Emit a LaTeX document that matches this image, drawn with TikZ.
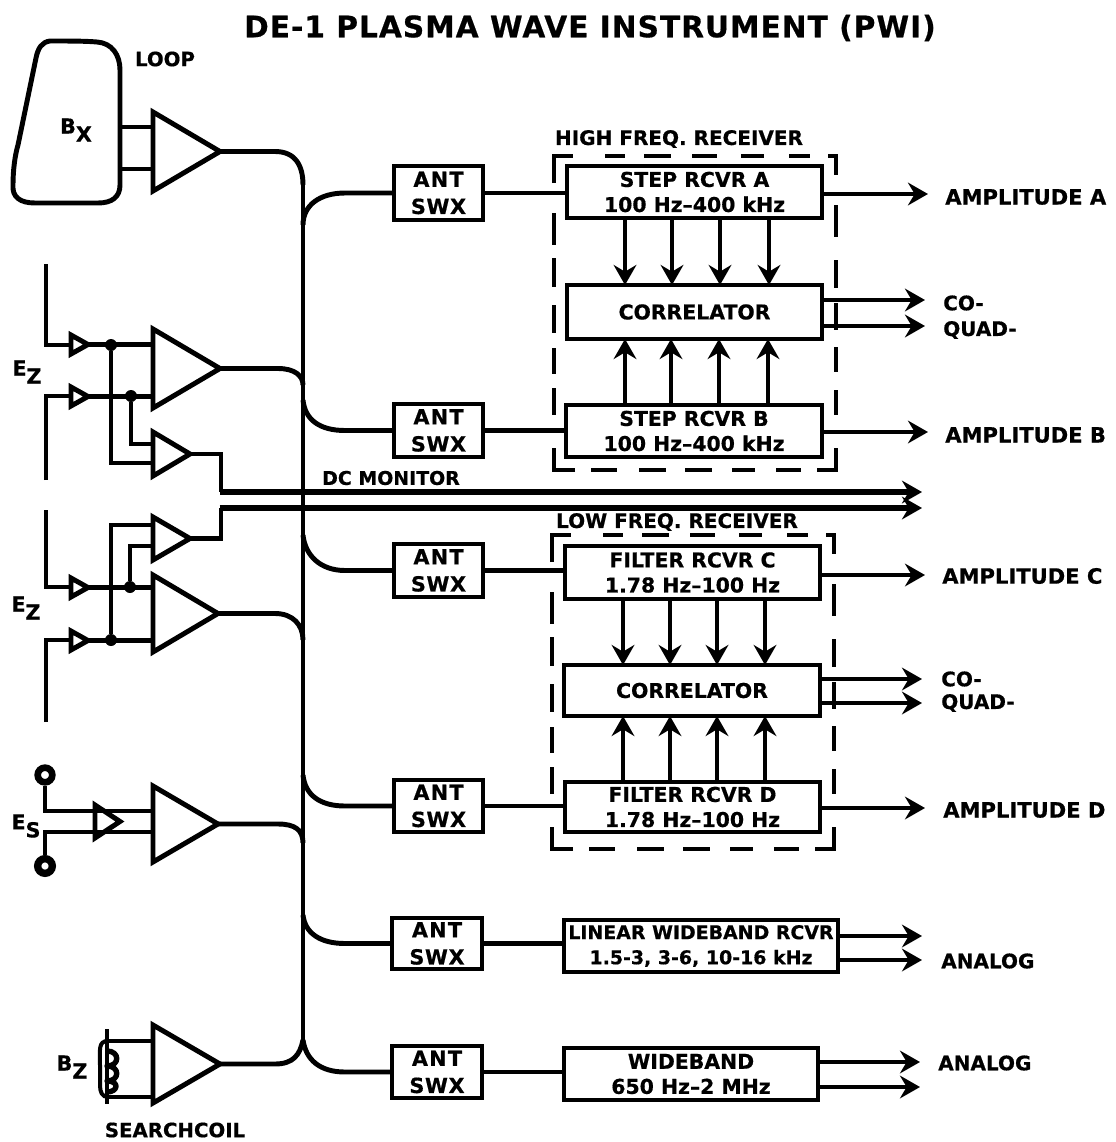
\documentclass[tikz,border=0pt]{standalone}
\usepackage{fontspec}
\setmainfont{DejaVu Sans Bold}[FakeBold=0.6]
\usetikzlibrary{arrows.meta}
\newcommand{\txt}[1]{\fontsize{#1}{#1}\selectfont}
\newcommand{\lowr}[1]{\raisebox{-6pt}{#1}}
\tikzset{
  wire/.style={line width=3.7pt,line join=miter},
  thinwire/.style={line width=3.2pt},
  arr/.style={line width=3.5pt,-{Stealth[length=15pt,width=17pt,inset=5pt]}},
  blk/.style={draw,line width=3.7pt,outer sep=0pt,align=center,inner sep=0pt,font=\txt{15.3}},
  lbl/.style={inner sep=0pt,font=\txt{15}},
  dashseg/.style={line width=3.4pt},
  dot/.style={circle,fill=black,inner sep=0pt,minimum size=9pt}
}
\newcommand{\bx}[6]{%
  \pgfmathsetmacro{\cxa}{(#2+#4)/2}\pgfmathsetmacro{\cya}{(#3+#5)/2}%
  \pgfmathsetmacro{\wa}{(#4-#2)*0.75}\pgfmathsetmacro{\ha}{(#5-#3)*0.75}%
  \node[blk,minimum width=\wa pt,minimum height=\ha pt] (#1) at (\cxa,\cya) {#6};}
\newcommand{\amp}[5]{% name, x, ytop, ybot, tipx
  \pgfmathsetmacro{\ym}{(#3+#4)/2}%
  \coordinate (#1) at (#5,\ym);
  \draw[wire] (#2,#3) -- (#5,\ym) -- (#2,#4) -- cycle;}
\newcommand{\dashframe}[2]{%
 \begin{scope}[shift={(#1,#2)}]
  \draw[dashseg] (554,183) -- (554,156) -- (573,156);
  \draw[dashseg] (817,470) -- (836,470) -- (836,448);
  \draw[dashseg] (575,470) -- (554,470) -- (554,448);
  \draw[dashseg] (828,156) -- (836,156) -- (836,175);
  \foreach \a/\b in {213/245,258/287,305/333,348/374,388/415}{\draw[dashseg] (554,\a) -- (554,\b);}
  \foreach \a/\b in {205/237,260/288,303/330,347/372,390/415}{\draw[dashseg] (836,\a) -- (836,\b);}
  \foreach \a/\b in {605/625,644/671,692/717,741/764,789/810}{\draw[dashseg] (\a,156) -- (\b,156);}
  \foreach \a/\b in {591/617,639/666,685/712,732/755,776/801}{\draw[dashseg] (\a,470) -- (\b,470);}
 \end{scope}}
\begin{document}
\begin{tikzpicture}[x=0.75pt,y=-0.75pt]
\useasboundingbox (0,0) rectangle (1115,1142);
\fill[white] (0,0) rectangle (1115,1142);
% title
\node[inner sep=0pt,font=\txt{22.2}] (title) at (590,28) {\addfontfeature{LetterSpace=3.5}DE-1 PLASMA WAVE INSTRUMENT (PWI)};
% loop
\draw[wire] (50,41) .. controls (70,41) and (85,41) .. (97,42) .. controls (112,43) and (120,55) .. (120,70)
  -- (120,185) .. controls (120,197) and (112,203) .. (98,203) -- (35,203)
  .. controls (20,203) and (12,197) .. (13,185) .. controls (13,170) and (15,155) .. (18,145)
  -- (36,58) .. controls (38,48) and (42,42) .. (50,41) -- cycle;
\node[lbl,font=\txt{14.8}] (loop) at (165,59) {LOOP};
\node[lbl,font=\txt{15.5}] (bx) at (76,130) {B\lowr{X}};
% amplifiers
\amp{a1}{153}{112}{191}{220}
\amp{a2}{153}{329}{408}{220}
\amp{s1}{153}{432}{476}{190}
\amp{s2}{153}{517}{560}{190}
\amp{a3}{153}{575}{652}{218}
\amp{a4}{153}{786}{862}{218}
\amp{a5}{153}{1025}{1103}{220}
\amp{b1}{71}{335}{354}{88}
\amp{b2}{71}{387}{406}{88}
\amp{b3}{71}{578}{597}{88}
\amp{b4}{71}{631}{650}{88}
\amp{b5}{95}{805}{838}{120}
% loop to amp
\draw[wire] (120,127) -- (153,127);
\draw[wire] (120,169) -- (153,169);
% Ez upper
\node[lbl,font=\txt{15.5}] (ez1) at (27,372) {E\lowr{Z}};
\coordinate (w1t) at (46,264); \coordinate (w1b) at (46,345);
\draw[wire] (w1t) -- (w1b) -- (71,345);
\coordinate (w2t) at (46,480); \coordinate (w2b) at (46,396);
\draw[wire] (w2t) -- (w2b) -- (71,396);
\draw[wire] (b1) -- (153,344.5);
\draw[wire] (b2) -- (153,396.5);
\node[dot] (j1) at (111,345) {};
\node[dot] (j2) at (131,396) {};
\draw[wire] (j1) -- (111,463) -- (153,463);
\draw[wire] (j2) -- (131,444) -- (153,444);
\draw[wire] (s1) -- (221,454) -- (221,492);
% Ez lower
\node[lbl,font=\txt{15.5}] (ez2) at (26,608) {E\lowr{Z}};
\coordinate (w3t) at (46,510); \coordinate (w3b) at (46,587);
\draw[wire] (w3t) -- (w3b) -- (71,587);
\coordinate (w4t) at (46,722); \coordinate (w4b) at (46,640);
\draw[wire] (w4t) -- (w4b) -- (71,640);
\draw[wire] (b3) -- (153,587.5);
\draw[wire] (b4) -- (153,640.5);
\node[dot] (j3) at (130,587) {};
\node[dot] (j4) at (111,640) {};
\draw[wire] (j3) -- (130,546) -- (153,546);
\draw[wire] (j4) -- (111,525) -- (153,525);
\draw[wire] (s2) -- (221,538.5) -- (221,508);
% Es
\node[lbl,font=\txt{15.5}] (es) at (26,826) {E\lowr{S}};
\node[draw,circle,line width=5pt,minimum size=11pt,inner sep=0pt] (c1) at (45,775) {};
\node[draw,circle,line width=5.5pt,minimum size=11pt,inner sep=0pt] (c2) at (45,866) {};
\draw[wire] (c1) -- (45,811) -- (153,811);
\draw[wire] (c2) -- (45,832) -- (153,832);
% Bz coil
\node[lbl,font=\txt{15.5}] (bz) at (72,1067) {B\lowr{Z}};
\node[lbl,font=\txt{14.8}] (sc) at (175,1130) {SEARCHCOIL};
\coordinate (coilt) at (108,1041); \coordinate (coilb) at (108,1097);
\draw[wire] (107,1029) -- (107,1104);
\draw[wire] (coilt) -- (153,1041);
\draw[wire] (coilb) -- (153,1097);
\draw[line width=3pt] (coilt) .. controls (98,1041) and (100,1050) .. (100,1065) -- (100,1085) .. controls (100,1092) and (102,1097) .. (coilb);
\draw[line width=4pt,line join=round] (107,1051) .. controls (120,1051) and (120,1066) .. (107,1066) .. controls (120,1066) and (120,1081) .. (107,1081) .. controls (120,1081) and (118,1092) .. (107,1092);
% ANT SWX
\newcommand{\antswx}{\txt{15.6}\addfontfeature{LetterSpace=6}ANT\\[5pt]\txt{15.6}\addfontfeature{LetterSpace=3}SWX}
\bx{sw1}{394}{166}{483}{220}{\antswx}
\bx{sw2}{394}{404}{483}{457}{\antswx}
\bx{sw3}{394}{544}{483}{597}{\antswx}
\bx{sw4}{394}{780}{483}{832}{\antswx}
\bx{sw5}{392}{918}{482}{969}{\antswx}
\bx{sw6}{392}{1046}{482}{1098}{\antswx}
% receivers
\bx{ra}{567}{166}{822}{218}{STEP RCVR A\\[3.5pt]100 Hz–400 kHz}
\bx{ca}{567}{285}{822}{339}{CORRELATOR}
\bx{rb}{566}{405}{822}{457}{STEP RCVR B\\[3.5pt]100 Hz–400 kHz}
\bx{rc}{565}{546}{820}{599}{FILTER RCVR C\\[3.5pt]1.78 Hz–100 Hz}
\bx{cb}{564}{665}{820}{716}{CORRELATOR}
\bx{rd}{565}{782}{820}{832}{FILTER RCVR D\\[3.5pt]1.78 Hz–100 Hz}
\bx{lw}{564}{920}{838}{972}{\txt{14.2}LINEAR WIDEBAND RCVR\\[3.5pt]\txt{14.2}1.5-3, 3-6, 10-16 kHz}
\bx{wb}{564}{1048}{818}{1100}{WIDEBAND\\[3.5pt]650 Hz–2 MHz}
% dashed frames
\dashframe{0}{0}
\dashframe{-2}{379}
\node[lbl,font=\txt{15}] (hf) at (679,139) {HIGH FREQ. RECEIVER};
\node[lbl,font=\txt{15}] (lf) at (677,522) {LOW FREQ. RECEIVER};
% bus
\coordinate (bt) at (303,185); \coordinate (bb) at (303,1040);
\draw[wire] (bt) -- (bb);
\draw[wire] (a1) -- (275,151.5) .. controls (295,151.5) and (303,165) .. (bt);
\coordinate (t2) at (303,385); \coordinate (t3) at (303,640);
\coordinate (t4) at (303,843);
\draw[wire] (a2) -- (278,368.5) .. controls (295,368.5) and (303,376) .. (t2);
\draw[wire] (a3) -- (275,613.5) .. controls (293,613.5) and (303,625) .. (t3);
\draw[wire] (a4) -- (278,824) .. controls (295,824) and (303,830) .. (t4);
\draw[wire] (a5) -- (275,1064) .. controls (293,1064) and (300,1055) .. (bb);
\coordinate (f1) at (303,225); \coordinate (f2) at (303,400); \coordinate (f3) at (303,535);
\coordinate (f4) at (303,775); \coordinate (f5) at (303,915);
\draw[wire] (f1) .. controls (303,205) and (320,193) .. (345,193) -- (sw1.west);
\draw[wire] (f2) .. controls (305,420) and (320,430.5) .. (345,430.5) -- (sw2.west);
\draw[wire] (f3) .. controls (305,555) and (320,570.5) .. (345,570.5) -- (sw3.west);
\draw[wire] (f4) .. controls (305,795) and (320,806) .. (345,806) -- (sw4.west);
\draw[wire] (f5) .. controls (305,933) and (320,943.5) .. (345,943.5) -- (sw5.west);
\draw[wire] (bb) .. controls (306,1060) and (320,1072) .. (345,1072) -- (sw6.west);
% ant to rcvr
\draw[thinwire] (sw1.east) -- (sw1.east -| ra.west);
\draw[thinwire] (sw2.east) -- (sw2.east -| rb.west);
\draw[thinwire] (sw3.east) -- (sw3.east -| rc.west);
\draw[thinwire] (sw4.east) -- (sw4.east -| rd.west);
\draw[thinwire] (sw5.east) -- (sw5.east -| lw.west);
\draw[thinwire] (sw6.east) -- (sw6.east -| wb.west);
% vertical arrows
\foreach \xa/\xb in {625/625,672/671,720/719,769/768}{
  \draw[arr] (\xa,218) -- (\xa,285);
  \draw[arr] (\xb,405) -- (\xb,339);
}
\foreach \xa in {623,670,717,765}{
  \draw[arr] (\xa,599) -- (\xa,665);
  \draw[arr] (\xa,782) -- (\xa,716);
}
% outputs
\coordinate (oa) at (928,194); \coordinate (oc1) at (925,300); \coordinate (oc2) at (925,326);
\coordinate (ob) at (928,432); \coordinate (od1) at (922,492); \coordinate (od2) at (922,508);
\coordinate (oc) at (925,575); \coordinate (oe1) at (922,679); \coordinate (oe2) at (922,703);
\coordinate (od) at (925,808); \coordinate (ol1) at (922,936); \coordinate (ol2) at (922,960);
\coordinate (ow1) at (920,1062); \coordinate (ow2) at (920,1087);
\draw[arr] (ra.east |- oa) -- (oa);
\draw[arr] (ca.east |- oc1) -- (oc1);
\draw[arr] (ca.east |- oc2) -- (oc2);
\draw[arr] (rb.east |- ob) -- (ob);
\draw[arr] (rc.east |- oc) -- (oc);
\draw[arr] (cb.east |- oe1) -- (oe1);
\draw[arr] (cb.east |- oe2) -- (oe2);
\draw[arr] (rd.east |- od) -- (od);
\draw[arr] (lw.east |- ol1) -- (ol1);
\draw[arr] (lw.east |- ol2) -- (ol2);
\draw[arr] (wb.east |- ow1) -- (ow1);
\draw[arr] (wb.east |- ow2) -- (ow2);
\draw[arr,line width=3.9pt] (219.5,492) -- (od1);
\draw[arr,line width=3.9pt] (219.5,508) -- (od2);
\node[lbl,font=\txt{14.2}] (dcm) at (391,478) {DC MONITOR};
% right labels
\node[lbl,anchor=west,font=\txt{15.8}] (la) at (945,197) {AMPLITUDE A};
\node[lbl,anchor=west,font=\txt{15.8}] (lb) at (945,435) {AMPLITUDE B};
\node[lbl,anchor=west,font=\txt{15.8}] (lc) at (942,576) {AMPLITUDE C};
\node[lbl,anchor=west,font=\txt{15.8}] (ld) at (943,810) {AMPLITUDE D};
\node[lbl,anchor=west] (co1) at (943,303) {CO-};
\node[lbl,anchor=west] (q1) at (943,330) {QUAD-};
\node[lbl,anchor=west] (co2) at (941,679) {CO-};
\node[lbl,anchor=west] (q2) at (941,703) {QUAD-};
\node[lbl,anchor=west] (an1) at (941,961) {ANALOG};
\node[lbl,anchor=west] (an2) at (938,1063) {ANALOG};
\end{tikzpicture}
\end{document}
